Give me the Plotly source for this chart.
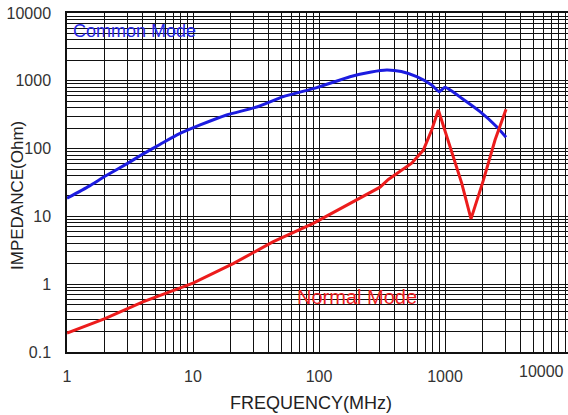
import plotly.graph_objects as go

# Impedance vs frequency, common mode and normal mode (MHz, Ohm)
cm_freq = [1, 1.5, 2, 3, 4, 5.5, 7.4, 11.4, 18.5, 32, 52, 96, 176, 260, 344, 450,
           596, 784, 901, 1000, 1400, 1896, 2570, 3050]
cm_imp = [18.5, 28, 39, 60, 83, 116, 158, 223, 313, 410, 583, 793, 1150, 1350, 1443,
          1370, 1150, 867, 690, 802, 530, 350, 210, 147]

nm_freq = [1, 2, 4, 10, 21, 43, 90, 187, 305, 355, 544, 673, 784, 885, 1356, 1608,
           2014, 2494, 3050]
nm_imp = [0.19, 0.31, 0.55, 1.04, 2.03, 4.2, 7.9, 16.5, 27, 35, 61, 95, 188, 370,
          31, 9.2, 34, 134, 380]

x_ticks = [1, 10, 100, 1000]
x_ticktext = ["1", "10", "100", "1000"]
x_last_label = "10000"
y_ticks = [0.1, 1, 10, 100, 1000, 10000]
y_ticktext = ["0.1", "1", "10", "100", "1000", "10000"]

FONT = "Liberation Sans, Arial, sans-serif"
GRID = "#111111"

fig = go.Figure()
fig.add_trace(go.Scatter(x=cm_freq, y=cm_imp, mode="lines",
                         line=dict(color="#1c1ce0", width=3, shape="spline", smoothing=0.5),
                         hoverinfo="skip", showlegend=False))
fig.add_trace(go.Scatter(x=nm_freq, y=nm_imp, mode="lines",
                         line=dict(color="#ec1c1c", width=3),
                         hoverinfo="skip", showlegend=False))

fig.update_layout(
    width=568, height=415,
    margin=dict(l=67, r=0, t=13, b=63),
    paper_bgcolor="white", plot_bgcolor="white",
    font=dict(family=FONT, size=16, color="#333333"),
    xaxis=dict(
        type="log", range=[0, 3.976],
        tickvals=x_ticks, ticktext=x_ticktext,
        showgrid=True, gridcolor=GRID, gridwidth=1.3,
        minor=dict(dtick="D1", showgrid=True, gridcolor=GRID, gridwidth=1.3),
        showline=True, linecolor=GRID, linewidth=1.5, mirror=True,
        ticks="", ticklabelstandoff=9, zeroline=False,
    ),
    yaxis=dict(
        type="log", range=[-1, 4],
        tickvals=y_ticks, ticktext=y_ticktext,
        showgrid=True, gridcolor=GRID, gridwidth=1.3,
        minor=dict(dtick="D1", showgrid=True, gridcolor=GRID, gridwidth=1.3),
        showline=True, linecolor=GRID, linewidth=1.5,
        ticks="", ticklabelstandoff=11, zeroline=False,
    ),
)

annotations = [
    dict(text=x_last_label, xref="paper", yref="paper", x=1, y=0,
         xanchor="right", yanchor="top", yshift=-9, xshift=-2, showarrow=False,
         font=dict(family=FONT, size=16, color="#333333")),
    dict(text="FREQUENCY(MHz)", xref="paper", yref="paper",
         x=(311 - 67) / 501, y=0, xanchor="center", yanchor="middle", yshift=-51,
         showarrow=False, font=dict(family=FONT, size=18, color="#222222")),
    dict(text="IMPEDANCE(Ohm)", xref="paper", yref="paper", x=0, y=(352 - 196) / 339,
         xanchor="center", yanchor="middle", xshift=-49, textangle=-90,
         showarrow=False, font=dict(family=FONT, size=17, color="#222222")),
    dict(text="Common Mode", xref="paper", yref="paper", x=0.008, y=0.947,
         xanchor="left", yanchor="middle", showarrow=False,
         font=dict(family=FONT, size=18, color="#2828e6")),
    dict(text="Normal Mode", xref="paper", yref="paper", x=0.455, y=0.162,
         xanchor="left", yanchor="middle", showarrow=False,
         font=dict(family=FONT, size=20, color="#ec2020")),
]
fig.update_layout(annotations=annotations)

fig.write_html("out.html")
